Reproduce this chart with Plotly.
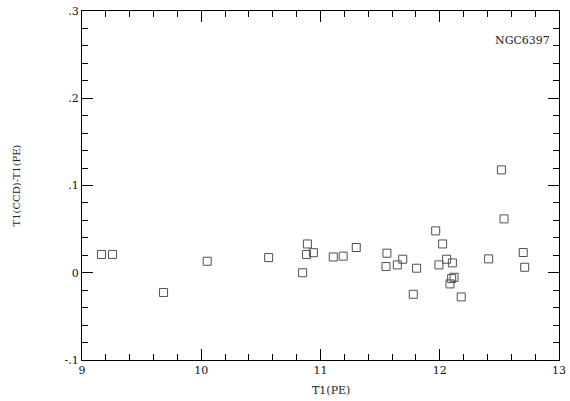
import plotly.graph_objects as go

# T1(PE) magnitudes and T1(CCD)-T1(PE) differences
t1_pe = [9.164, 9.256, 9.684, 10.05, 10.565, 10.85, 10.89, 10.883, 10.94,
         11.107, 11.19, 11.30, 11.557, 11.549, 11.644, 11.69, 11.806, 11.778,
         11.966, 12.024, 11.993, 12.058, 12.106, 12.12, 12.10, 12.086, 12.18,
         12.41, 12.517, 12.539, 12.70, 12.712]
diff = [0.021, 0.021, -0.0227, 0.0132, 0.0174, 0.0, 0.033, 0.021, 0.023,
        0.0181, 0.019, 0.0289, 0.0224, 0.0071, 0.009, 0.0155, 0.0052, -0.0247,
        0.048, 0.033, 0.009, 0.0155, 0.0113, -0.0052, -0.0067, -0.0128, -0.0277,
        0.0159, 0.1179, 0.0617, 0.0232, 0.0063]

x_ticks = [9, 10, 11, 12, 13]
x_labels = ["9", "10", "11", "12", "13"]
y_ticks = [-0.1, 0, 0.1, 0.2, 0.3]
y_labels = ["-.1", "0", ".1", ".2", ".3"]

font_family = "DejaVu Serif"

fig = go.Figure()
fig.add_trace(go.Scatter(
    x=t1_pe, y=diff, mode="markers",
    marker=dict(symbol="square-open", size=8, color="#505050",
                line=dict(width=1, color="#505050")),
    showlegend=False,
))

axis_common = dict(
    showgrid=False, zeroline=False, showline=True, linecolor="black",
    linewidth=1, mirror="ticks", ticks="inside", tickcolor="black",
    tickwidth=1, ticklen=11, automargin=False,
    tickfont=dict(family=font_family, size=11, color="#111111"),
)

fig.update_layout(
    width=570, height=401, autosize=False,
    margin=dict(l=82, r=11, t=11, b=41, pad=0),
    paper_bgcolor="white", plot_bgcolor="white",
    font=dict(family=font_family, size=11, color="#222222"),
    xaxis=dict(range=[9, 13], tickvals=x_ticks, ticktext=x_labels,
               minor=dict(dtick=0.2, ticks="inside", ticklen=6,
                          tickcolor="black", showgrid=False),
               **axis_common),
    yaxis=dict(range=[-0.1, 0.3], tickvals=y_ticks, ticktext=y_labels,
               minor=dict(dtick=0.02, ticks="inside", ticklen=6,
                          tickcolor="black", showgrid=False),
               title=dict(text="T1(CCD)-T1(PE)", standoff=42,
                          font=dict(family=font_family, size=10)),
               **axis_common),
    annotations=[
        dict(text="NGC6397", x=0.985, y=0.915, xref="paper",
             yref="paper", xanchor="right", yanchor="middle",
             showarrow=False,
             font=dict(family=font_family, size=11, color="#222222")),
        dict(text="T1(PE)", x=0.523, y=0, xref="paper", yref="paper",
             xanchor="center", yanchor="middle", yshift=-30,
             showarrow=False,
             font=dict(family=font_family, size=11, color="#222222")),
    ],
)

fig.write_html(
    "out.html",
    config={"displayModeBar": False, "responsive": False},
    post_script=(
        "document.documentElement.style.margin='0';"
        "document.documentElement.style.overflow='hidden';"
        "document.body.style.margin='0';"
        "document.body.style.overflow='hidden';"
    ),
)
